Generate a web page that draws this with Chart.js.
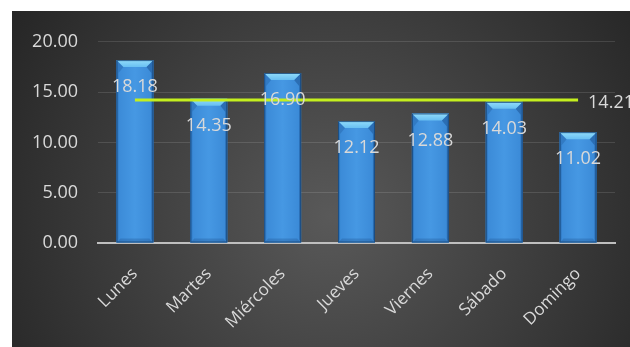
<!DOCTYPE html>
<html>
<head>
<meta charset="utf-8">
<script src="https://cdn.jsdelivr.net/npm/chart.js@4"></script>
<style>
  html, body { margin: 0; padding: 0; background: #fff; }
  #wrap { position: absolute; left: 12px; top: 11px; width: 618px; height: 336px; }
</style>
</head>
<body>
<div id="wrap"><canvas id="chart"></canvas></div>
<script>
const dias = ['Lunes', 'Martes', 'Miércoles', 'Jueves', 'Viernes', 'Sábado', 'Domingo'];
const valores = [18.18, 14.35, 16.90, 12.12, 12.88, 14.03, 11.02];
const promedio = [14.21, 14.21, 14.21, 14.21, 14.21, 14.21, 14.21];
const yTicks = [0, 5, 10, 15, 20];

const FONT = '"Open Sans", sans-serif';
const TEXT = '#d9d9d9';

// dark radial backdrop behind the whole chart
const fondo = {
  id: 'fondo',
  beforeDraw(chart) {
    const { ctx, width, height } = chart;
    const g = ctx.createRadialGradient(318, 205, 0, 318, 205, 390);
    g.addColorStop(0, '#595959');
    g.addColorStop(1, '#242424');
    ctx.save();
    ctx.fillStyle = g;
    ctx.fillRect(0, 0, width, height);
    ctx.restore();
  }
};

function faceta(ctx, pts, fill) {
  ctx.fillStyle = fill;
  ctx.beginPath();
  ctx.moveTo(pts[0][0], pts[0][1]);
  for (let i = 1; i < pts.length; i++) ctx.lineTo(pts[i][0], pts[i][1]);
  ctx.closePath();
  ctx.fill();
}

// bevelled look on top of the plain bars
const bisel = {
  id: 'bisel',
  afterDatasetDraw(chart, args) {
    if (args.meta.type !== 'bar') return;
    const ctx = chart.ctx;
    args.meta.data.forEach((el) => {
      const { x, y, base, width } = el.getProps(['x', 'y', 'base', 'width'], true);
      const l = x - width / 2, r = x + width / 2, b = 7;
      ctx.save();
      const h = ctx.createLinearGradient(l, 0, r, 0);
      h.addColorStop(0, '#3a89d6');
      h.addColorStop(0.5, '#4698e3');
      h.addColorStop(1, '#3a89d6');
      ctx.fillStyle = h;
      ctx.fillRect(l, y, width, base - y);
      // side facets
      faceta(ctx, [[l, y], [l + b, y + b], [l + 2, y + b + 6], [l + 2, base - 3], [l, base]], 'rgba(40,105,175,0.5)');
      faceta(ctx, [[r, y], [r - b, y + b], [r - 2, y + b + 6], [r - 2, base - 3], [r, base]], 'rgba(30,85,150,0.55)');
      // top facet
      const t = ctx.createLinearGradient(0, y, 0, y + b);
      t.addColorStop(0, '#92dcfa');
      t.addColorStop(1, '#68bff2');
      faceta(ctx, [[l, y], [r, y], [r - b, y + b], [l + b, y + b]], t);
      // bottom facet
      faceta(ctx, [[l, base], [r, base], [r - 4, base - 4], [l + 4, base - 4]], 'rgba(30,80,140,0.3)');
      ctx.strokeStyle = 'rgba(25,70,120,0.85)';
      ctx.lineWidth = 1;
      ctx.strokeRect(l + 0.5, y + 0.5, width - 1, base - y - 1);
      ctx.restore();
    });
  }
};

// value labels inside the bars and the average value at the end of the line
const etiquetas = {
  id: 'etiquetas',
  afterDatasetsDraw(chart) {
    const ctx = chart.ctx;
    ctx.save();
    ctx.font = '18px ' + FONT;
    ctx.fillStyle = TEXT;
    ctx.textBaseline = 'middle';
    chart.data.datasets.forEach((ds, i) => {
      const meta = chart.getDatasetMeta(i);
      if (meta.type === 'bar') {
        ctx.textAlign = 'center';
        meta.data.forEach((el, j) => {
          ctx.fillText(ds.data[j].toFixed(2), el.x, el.y + 27);
        });
      } else {
        const last = meta.data[meta.data.length - 1];
        ctx.textAlign = 'left';
        ctx.fillText(ds.data[ds.data.length - 1].toFixed(2), last.x + 10, last.y + 3);
      }
    });
    ctx.restore();
  }
};

new Chart(document.getElementById('chart'), {
  data: {
    labels: dias,
    datasets: [
      {
        type: 'line',
        data: promedio,
        borderColor: '#c4ef1e',
        borderWidth: 3,
        pointRadius: 0,
        order: 0
      },
      {
        type: 'bar',
        data: valores,
        backgroundColor: '#4496e1',
        categoryPercentage: 0.5,
        barPercentage: 1,
        order: 1
      }
    ]
  },
  options: {
    responsive: true,
    maintainAspectRatio: false,
    animation: false,
    events: [],
    layout: { padding: { left: 0, right: 15, top: 29, bottom: 0 } },
    plugins: { legend: { display: false }, tooltip: { enabled: false } },
    scales: {
      y: {
        min: 0,
        max: 20,
        afterFit: (s) => { s.width = 86; },
        afterBuildTicks: (s) => { s.ticks = yTicks.map((v) => ({ value: v })); },
        border: { display: false },
        grid: { color: 'rgba(255,255,255,0.12)', lineWidth: 1, drawTicks: false },
        ticks: {
          padding: 20,
          color: TEXT,
          font: { family: FONT, size: 18 },
          callback: (v) => Number(v).toFixed(2)
        }
      },
      x: {
        afterFit: (s) => { s.height = 104; },
        border: { display: true, color: '#bfbfbf', width: 2 },
        grid: { display: false, drawTicks: false },
        ticks: {
          padding: 21,
          minRotation: 45,
          maxRotation: 45,
          color: TEXT,
          font: { family: FONT, size: 17 }
        }
      }
    }
  },
  plugins: [fondo, bisel, etiquetas]
});
</script>
</body>
</html>
